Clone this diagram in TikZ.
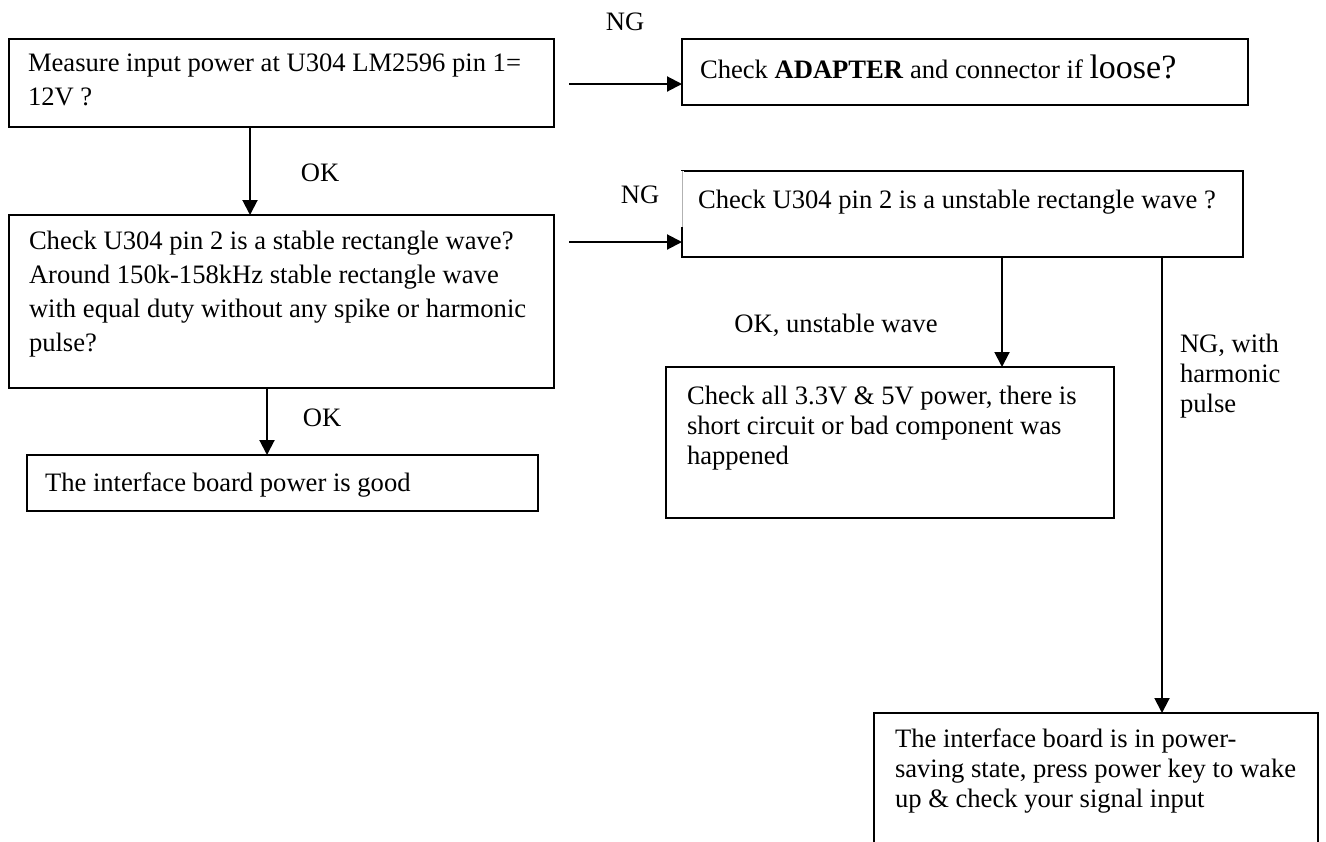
\documentclass[tikz,border=0pt]{standalone}
\usepackage{fontspec}
\setmainfont{Liberation Serif}
\usetikzlibrary{arrows.meta,fit}

\begin{document}
\begin{tikzpicture}[x=0.5pt,y=-0.5pt,
  box/.style={draw=black, line width=1.1pt, rectangle, inner sep=0pt, outer sep=0pt},
  txtL/.style={inner sep=0pt, outer sep=0pt, align=left, anchor=north west,
    font=\fontsize{13.3}{17}\selectfont},
  txtR/.style={inner sep=0pt, outer sep=0pt, align=left, anchor=north west,
    font=\fontsize{13.3}{15}\selectfont},
  line1/.style={inner sep=0pt, outer sep=0pt, anchor=base west,
    font=\fontsize{13.3}{15}\selectfont},
  lbl/.style={inner sep=0pt, outer sep=0pt, font=\fontsize{13.3}{15}\selectfont},
  flow/.style={line width=1pt, -{Triangle[length=7.5pt,width=7.5pt]}}]
\useasboundingbox (0,0) rectangle (1326,841);
\clip (0,0) rectangle (1326,841);

% column positions of the vertical connectors
\coordinate (xa) at (250,0);
\coordinate (xb) at (267,0);
\coordinate (xc) at (1002,0);
\coordinate (xd) at (1162,0);
% free starting points of the horizontal connectors
\coordinate (s1) at (569,84);
\coordinate (s2) at (569,242);

% boxes
\node[box, fit={(9,39) (554,127)}]     (measure)  {};
\node[box, fit={(682,39) (1248,105)}]  (adapter)  {};
\node[box, fit={(9,215) (554,388)}]    (stable)   {};
\node[box, fit={(682,171) (1243,257)}] (unstable) {};
\node[box, fit={(666,367) (1114,518)}] (shorts)   {};
\node[box, fit={(27,455) (538,511)}]   (good)     {};
\node[box, fit={(874,713) (1318,900)}] (saving)   {};
% faint upper part of the left edge of the unstable box
\draw[white, line width=1.6pt] (unstable.north west) -- ++(0,56);
\draw[black!30, line width=0.5pt] (unstable.north west) -- ++(0,56);

% box texts
\node[txtL] (measuretxt) at (28,54)
  {Measure input power at U304 LM2596 pin 1=\\12V ?};
\node[line1] (adaptertxt) at (700,78)
  {Check \textbf{ADAPTER} and connector if {\fontsize{17}{17}\selectfont loose?}};
\node[txtL] (stabletxt) at (29,231)
  {Check U304 pin 2 is a stable rectangle wave?\\
   Around 150k-158kHz stable rectangle wave\\
   with equal duty without any spike or harmonic\\
   pulse?};
\node[line1] (unstabletxt) at (698,208)
  {Check U304 pin 2 is a unstable rectangle wave ?};
\node[txtR] (shortstxt) at (687,386)
  {Check all 3.3V \& 5V power, there is\\
   short circuit or bad component was\\
   happened};
\node[txtR] (goodtxt) at (45,473) {The interface board power is good};
\node[txtR] (savingtxt) at (895,729)
  {The interface board is in power-\\
   saving state, press power key to wake\\
   up \& check your signal input};

% connector labels
\node[lbl] (ng1) at (625,22) {NG};
\node[lbl] (ok1) at (320,173) {OK};
\node[lbl] (ng2) at (640,195) {NG};
\node[lbl] (ok2) at (322,418) {OK};
\node[lbl] (okwave) at (836,325) {OK, unstable wave};
\node[txtR] (ngharm) at (1180,334) {NG, with\\harmonic\\pulse};

% connectors
\draw[flow] (s1) -- (adapter.west |- s1);
\draw[flow] (s2) -- (unstable.west |- s2);
\draw[flow] (measure.south -| xa) -- (stable.north -| xa);
\draw[flow] (stable.south -| xb) -- (good.north -| xb);
\draw[flow] (unstable.south -| xc) -- (shorts.north -| xc);
\draw[flow] (unstable.south -| xd) -- (saving.north -| xd);
\end{tikzpicture}
\end{document}
